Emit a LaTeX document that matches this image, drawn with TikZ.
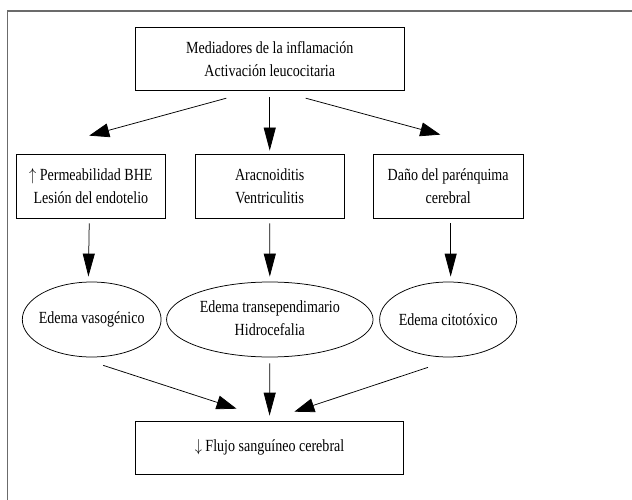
\documentclass[tikz,border=0pt]{standalone}
\usepackage{fontspec}
\setmainfont{Liberation Serif}
\usetikzlibrary{arrows.meta,shapes.geometric,calc}
\definecolor{framegray}{gray}{0.42}
\begin{document}
\begin{tikzpicture}[x=1pt,y=-1pt,xscale=0.82614,transform shape,
  txt/.style={font=\fontsize{17}{23}\selectfont, align=center},
  rbox/.style={txt, draw, line width=0.75pt, inner sep=0pt, minimum height=64pt, minimum width=181pt},
  ebox/.style={txt, draw, ellipse, line width=0.75pt, inner sep=0pt, minimum height=75pt},
  varr/.style={line width=0.75pt, -{Triangle[length=23pt,width=12pt]}},
  darr/.style={line width=0.75pt, -{Triangle[length=20pt,width=14pt]}}
]
\useasboundingbox (0,0) rectangle (765,500);
\clip (0,0) rectangle (765,500);
\fill[white] (0,0) rectangle (765,500);
\draw[framegray, line width=1.6pt] (9,530) -- (9,11) -- (800,11);

\node[rbox, minimum width=325pt, minimum height=63pt] (top) at (326.5,59) {Mediadores de la inflamación\\Activación leucocitaria};

\node[rbox] (l1) at (110,186) {$\uparrow$ Permeabilidad BHE\\Lesión del endotelio};
\node[rbox] (m1) at (326.5,186) {Aracnoiditis\\Ventriculitis};
\node[rbox] (r1) at (542.5,186) {Daño del parénquima\\cerebral};

\node[ebox, minimum width=168pt] (l2) at (111,319.5) {\makebox[0pt]{Edema vasogénico}};
\node[ebox, minimum width=250pt] (m2) at (326.6,319.5) {\makebox[0pt]{\begin{tabular}{@{}c@{}}Edema transependimario\\Hidrocefalia\end{tabular}}};
\node[ebox, minimum width=166pt] (r2) at (542.5,319.5) {\makebox[0pt]{Edema citotóxico}};

\node[rbox, minimum width=325pt, minimum height=53.5pt] (bot) at (326.3,447.8) {$\downarrow$ Flujo sanguíneo cerebral};

% top to row 2
\draw[darr] ($(top.south)+(-52.5,7.3)$) -- ($(l1.north)+(-2,-18)$);
\draw[varr] ($(top.south)+(0,6.5)$) -- ($(m1.north)+(0,-3)$);
\draw[darr] ($(top.south)+(43.5,7.3)$) -- ($(r1.north)+(-9.5,-19)$);

% row 2 to ellipses
\draw[varr] ($(l1.south)+(-2,5)$) -- ($(l2.north)+(-4,-5)$);
\draw[varr] ($(m1.south)+(0,5)$) -- ($(m2.north)+(0,-5)$);
\draw[varr] ($(r1.south)+(3,5)$) -- ($(r2.north)+(3,-5)$);

% ellipses to bottom
\draw[darr] ($(l2.south)+(14,8)$) -- ($(bot.north)+(-40,-12)$);
\draw[varr] ($(m2.south)+(0,6)$) -- ($(bot.north)+(0,-5)$);
\draw[darr] ($(r2.south)+(-24.5,10)$) -- ($(bot.north)+(30,-9)$);
\end{tikzpicture}
\end{document}
